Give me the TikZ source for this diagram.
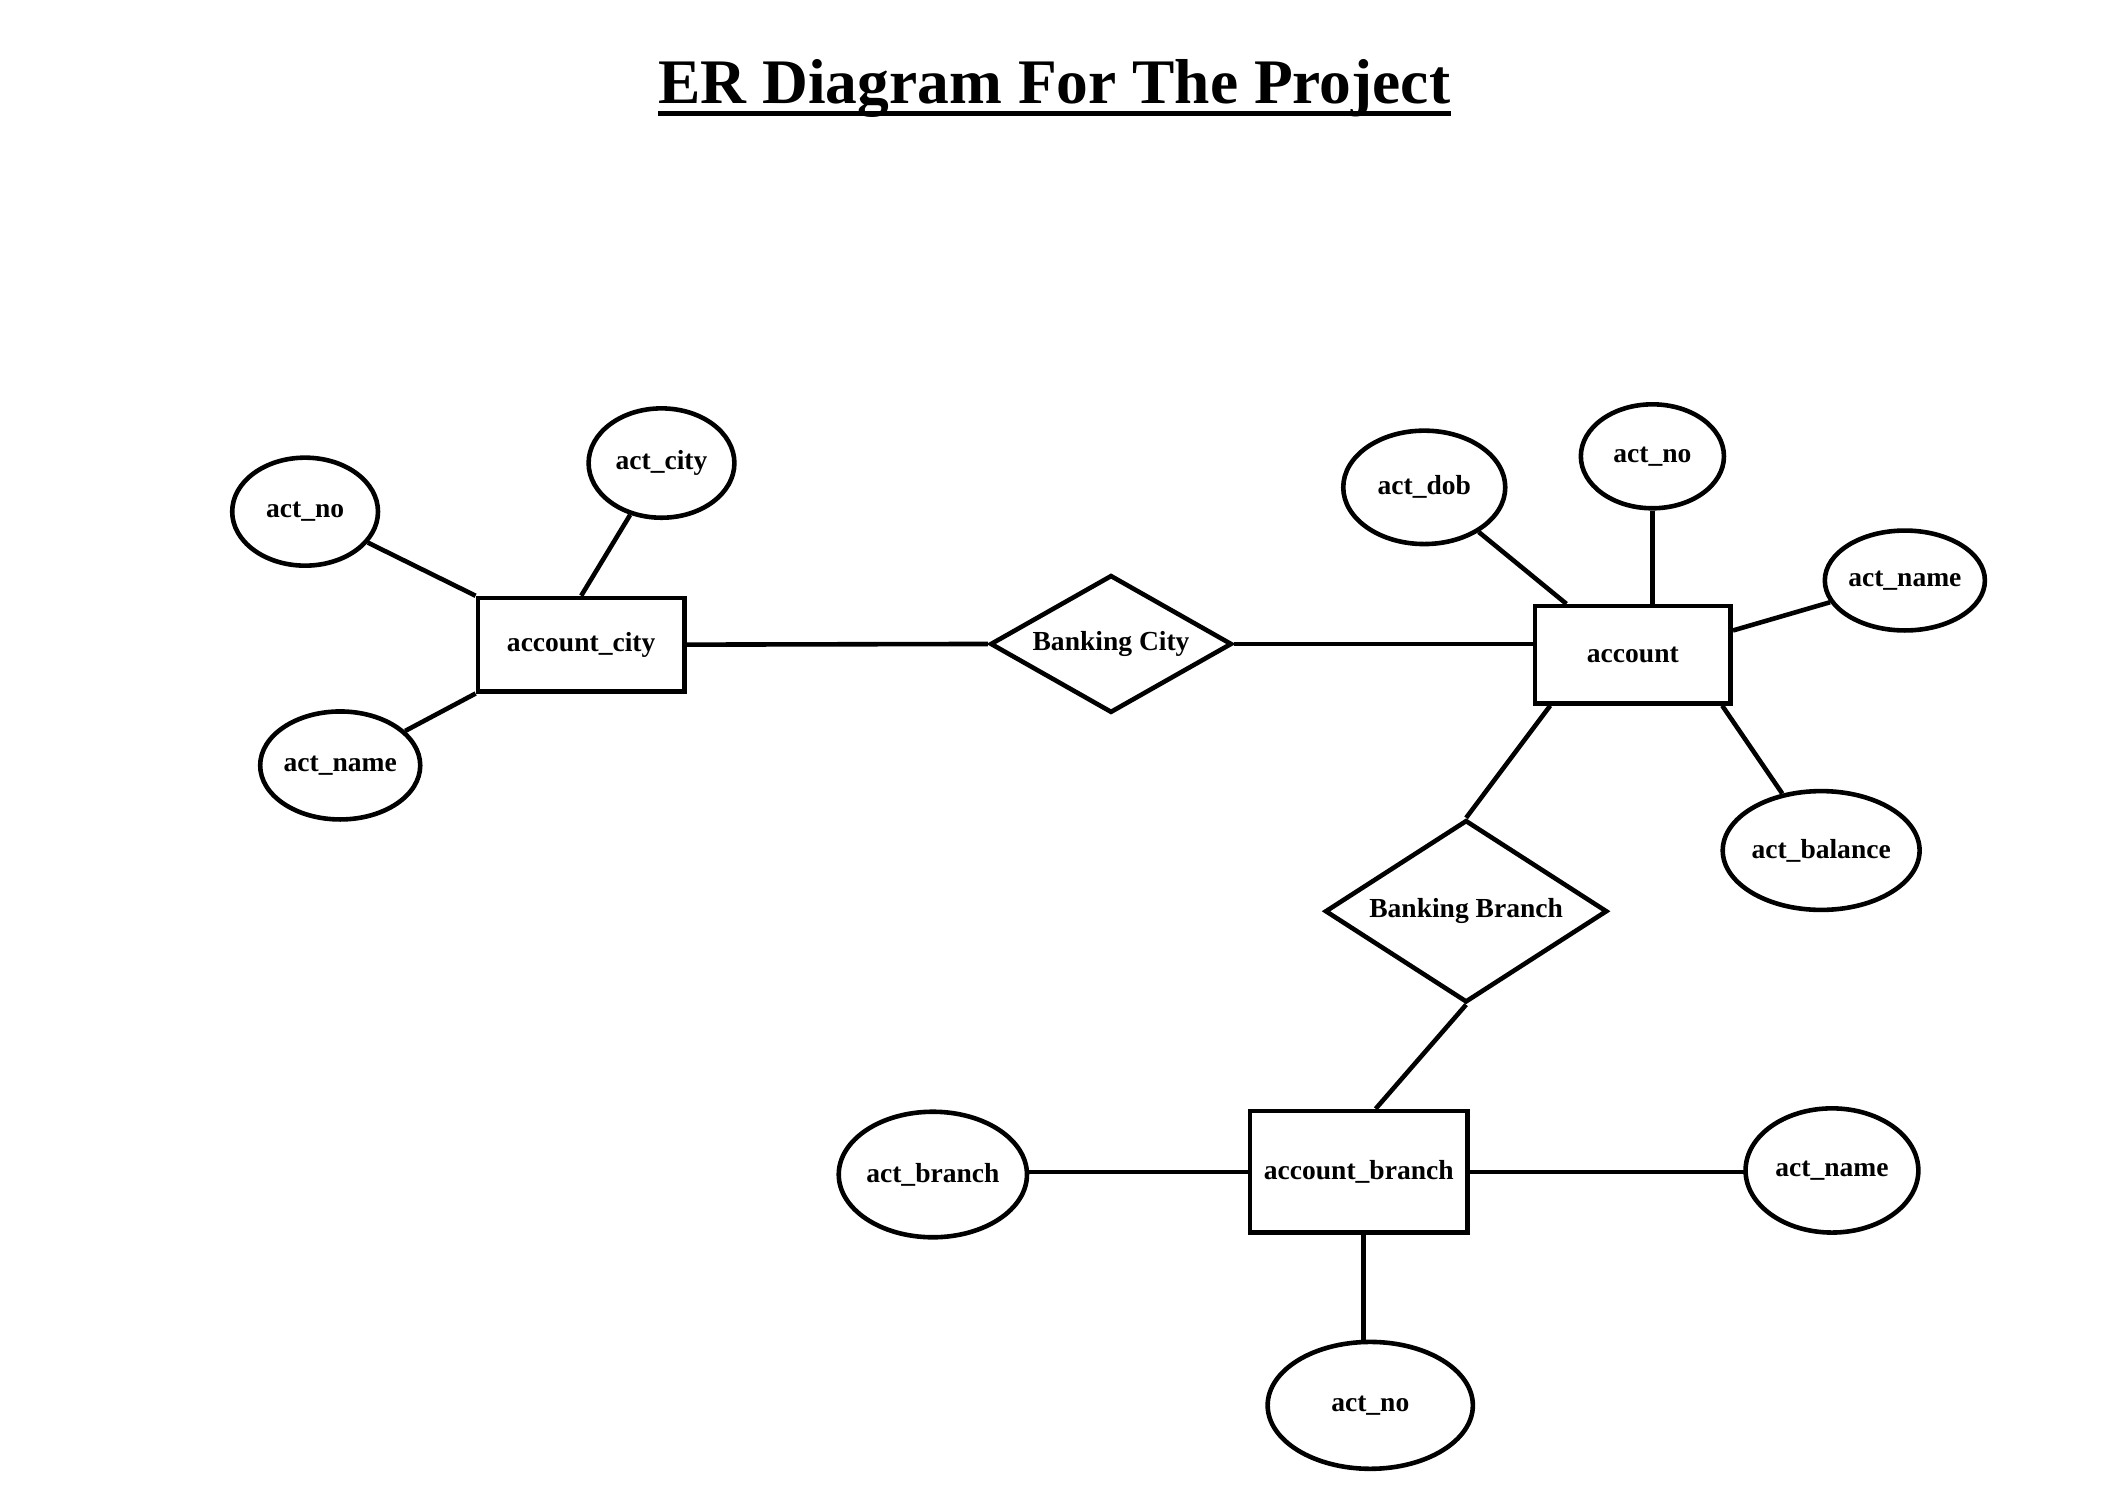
\documentclass[tikz,border=0pt]{standalone}
\usepackage{fontspec}
\setmainfont{Liberation Serif}
\usetikzlibrary{shapes.geometric,calc}
\newcommand{\erlbl}{\fontsize{20.4}{24}\selectfont\bfseries}
\begin{document}
\begin{tikzpicture}[x=1pt,y=-1pt,
  attr/.style={draw,ellipse,line width=3.4pt,inner sep=0pt,font=\erlbl},
  ent/.style={draw,rectangle,line width=3.4pt,inner sep=0pt,font=\erlbl},
  rel/.style={draw,diamond,line width=3.4pt,inner sep=0pt,font=\erlbl},
  link/.style={line width=3.4pt}]
\fill[white] (0,0) rectangle (1560,1108);
\useasboundingbox (0,0) rectangle (1560,1108);

% title
\node[inner sep=0pt,anchor=base,font=\fontsize{47}{56}\selectfont\bfseries] (title) at (781,77) {ER Diagram For The Project};
\draw[line width=4.2pt] ([yshift=-7pt]title.base west) -- ([yshift=-7pt]title.base east);

% entities
\node[ent,minimum width=153pt,minimum height=69pt] (acity) at (430.5,477.5) {account\_city};
\node[ent,minimum width=145pt,minimum height=72pt] (acc) at (1209.5,485) {account};
\node[ent,minimum width=161pt,minimum height=90pt] (abr) at (1006.5,868) {account\_branch};

% relationships
\node[rel,minimum width=179pt,minimum height=102pt,aspect=1.75] (bcity) at (823,477) {Banking City};
\node[rel,minimum width=209pt,minimum height=135pt,aspect=1.55] (bbranch) at (1086,675) {Banking Branch};

% attributes of account_city
\node[attr,minimum width=108pt,minimum height=80pt] (cno) at (226,379) {act\_no};
\node[attr,minimum width=108pt,minimum height=81pt] (ccity) at (490,343) {act\_city};
\node[attr,minimum width=108pt,minimum height=80pt] (cname) at (252,567) {act\_name};

% attributes of account
\node[attr,minimum width=120pt,minimum height=84pt] (adob) at (1055,361) {act\_dob};
\node[attr,minimum width=106pt,minimum height=77pt] (ano) at (1224,338) {act\_no};
\node[attr,minimum width=104pt,minimum height=74pt] (aname) at (1411,430) {act\_name};
\node[attr,minimum width=140pt,minimum height=88pt] (abal) at (1349,630) {act\_balance};

% attributes of account_branch
\node[attr,minimum width=132pt,minimum height=93pt] (bbr) at (691,870) {act\_branch};
\node[attr,minimum width=128pt,minimum height=92pt] (bname) at (1357,867) {act\_name};
\node[attr,minimum width=152pt,minimum height=94pt] (bno) at (1015,1041) {act\_no};

% connectors: account_city
\draw[link] (cno) -- (acity.north west);
\draw[link] (ccity) -- (acity.north);
\draw[link] (cname) -- (acity.south west);
\draw[link] (acity.east) -- (bcity.west);

% connectors: account
\draw[link] (bcity.east) -- ([yshift=8pt,xshift=3pt]acc.west);
\draw[link] (adob) -- ([xshift=25pt]acc.north west);
\draw[link] (ano.south) -- (ano.south |- acc.north);
\draw[link] (aname) -- ([yshift=18pt]acc.east);
\draw[link] ([xshift=-8pt]acc.south east) -- (abal);
\draw[link] ([xshift=13pt]acc.south west) -- (bbranch.north);

% connectors: account_branch
\draw[link] (bbranch.south) -- ([xshift=12.5pt]abr.north);
\draw[link] ([xshift=2pt]abr.west) -- ([xshift=-2pt]abr.west -| bbr.east);
\draw[link] (abr.east) -- ([xshift=1pt]abr.east -| bname.west);
\draw[link] ([xshift=3.5pt]abr.south) -- ([xshift=3.5pt,yshift=-1pt]abr.south |- bno.north);
\end{tikzpicture}
\end{document}
